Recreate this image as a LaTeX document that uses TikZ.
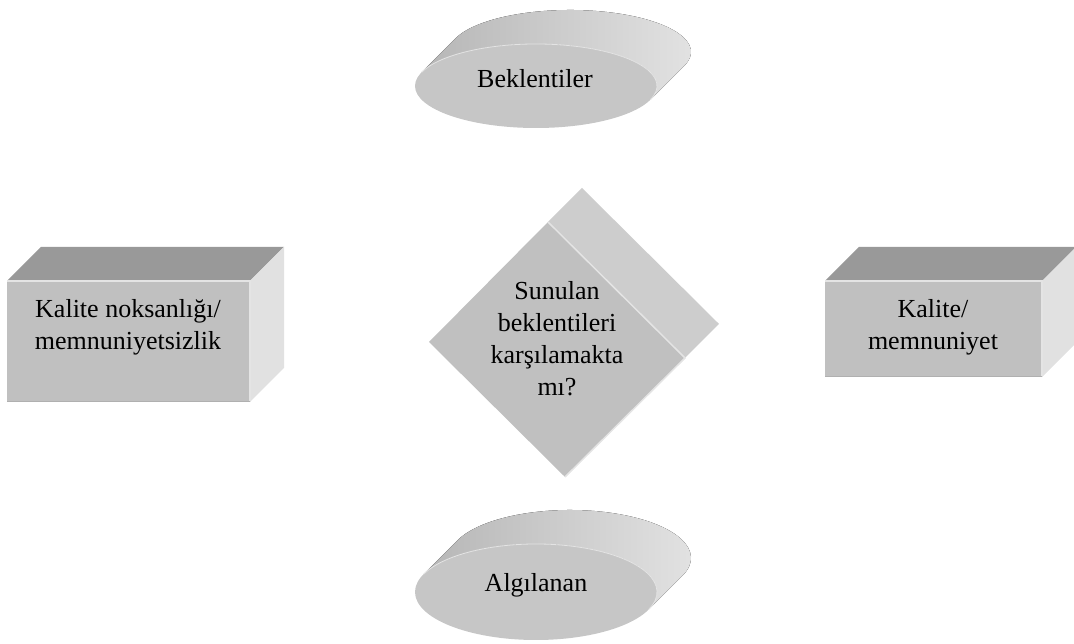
\documentclass[tikz,border=0pt]{standalone}
\usepackage{fontspec}
\setmainfont{Liberation Serif}
\usetikzlibrary{calc}
\definecolor{facegray}{HTML}{C0C0C0}
\definecolor{diskface}{HTML}{C6C6C6}
\definecolor{boxtop}{HTML}{999999}
\definecolor{boxside}{HTML}{E1E1E1}
\definecolor{diamside}{HTML}{CDCDCD}
\definecolor{edgelight}{HTML}{E4E4E4}
\definecolor{edgedark}{HTML}{B0B0B0}
\definecolor{rimdark}{HTML}{9A9A9A}
\definecolor{rimleft}{HTML}{B6B6B6}
\definecolor{rimright}{HTML}{E4E4E4}
\begin{document}
\begin{tikzpicture}[x=1pt,y=1pt,
  label/.style={font=\fontsize{26}{32}\selectfont, align=center, inner sep=0pt, text=black},
  rim/.style={left color=rimleft, middle color=rimdark, right color=rimright}]
\useasboundingbox (0,0) rectangle (1074,644);

% ---- left box ----
\fill[boxtop] (7,363) -- (41,397) -- (284,397) -- (250,363) -- cycle;
\fill[boxside] (250,363) -- (284,397) -- (284,276) -- (250,242) -- cycle;
\fill[facegray] (7,242) rectangle (250,363);
\draw[edgelight, line width=1.2] (7,363) -- (250,363) -- (250,242);
\draw[edgedark, line width=1.2] (7,242.6) -- (250,242.6);
\node[label] (low) at (128,317) {Kalite noksanlığı/\\memnuniyetsizlik};

% ---- right box ----
\fill[boxtop] (825,363) -- (859,397) -- (1076,397) -- (1042,363) -- cycle;
\fill[boxside] (1042,363) -- (1076,397) -- (1076,301) -- (1042,267) -- cycle;
\fill[facegray] (825,267) rectangle (1042,363);
\draw[edgelight, line width=1.2] (825,363) -- (1042,363) -- (1042,267);
\draw[edgedark, line width=1.2] (825,267.6) -- (1042,267.6);
\node[label] (high) at (933,317) {Kalite/\\memnuniyet};

% ---- decision diamond ----
\fill[diamside] (548,422) -- (582,456) -- (719,320) -- (685,286) -- cycle;
\fill[facegray] (429,302) -- (548,422) -- (685,286) -- (565,167) -- cycle;
\draw[edgelight, line width=1.5] (548,422) -- (685,286) -- (565,167);
\node[label] (ask) at (557,305) {Sunulan\\beklentileri\\karşılamakta\\mı?};

% ---- upper disk ----
\coordinate (uc) at (536,558);
\fill[rim] ($(uc)+(160.86:121 and 42)$) -- ++(34,34)
  arc[start angle=160.86, end angle=-19.14, x radius=121, y radius=42]
  -- ++(-34,-34)
  arc[start angle=-19.14, end angle=160.86, x radius=121, y radius=42] -- cycle;
\fill[diskface] (uc) ellipse[x radius=121, y radius=42];
\draw[edgelight, line width=0.8] ($(uc)+(160.86:121 and 42)$)
  arc[start angle=160.86, end angle=-19.14, x radius=121, y radius=42];
\node[label, anchor=base] (expect) at (535,556) {Beklentiler};

% ---- lower disk ----
\coordinate (lc) at (536,52);
\fill[rim] ($(lc)+(158.36:121 and 48)$) -- ++(34,34)
  arc[start angle=158.36, end angle=-21.64, x radius=121, y radius=48]
  -- ++(-34,-34)
  arc[start angle=-21.64, end angle=158.36, x radius=121, y radius=48] -- cycle;
\fill[diskface] (lc) ellipse[x radius=121, y radius=48];
\draw[edgelight, line width=0.8] ($(lc)+(158.36:121 and 48)$)
  arc[start angle=158.36, end angle=-21.64, x radius=121, y radius=48];
\node[label, anchor=base] (seen) at (536,52) {Algılanan};
\end{tikzpicture}
\end{document}
